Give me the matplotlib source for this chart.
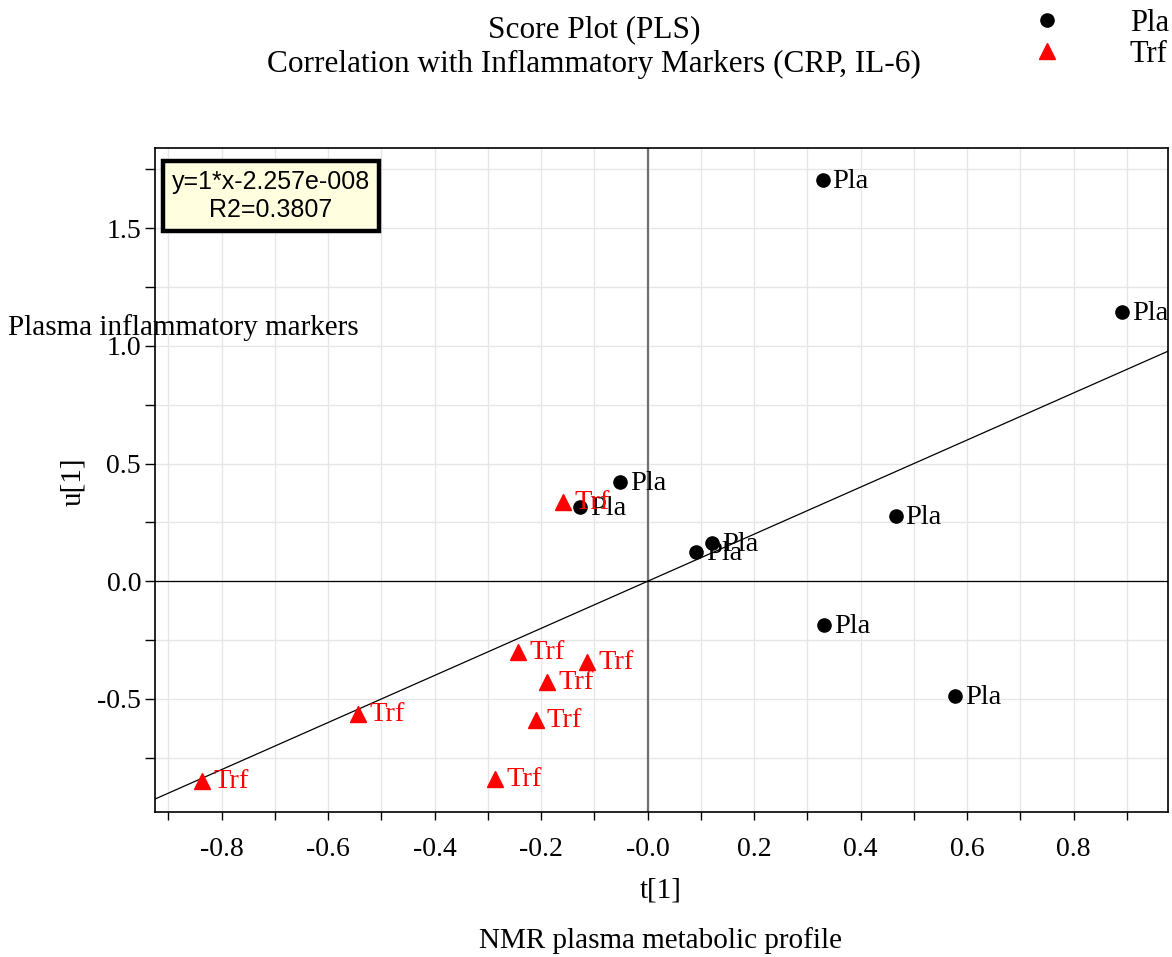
import numpy as np
import matplotlib
matplotlib.use('Agg')
import matplotlib.pyplot as plt
from matplotlib.ticker import MultipleLocator, FixedLocator

plt.rcParams['font.family'] = ['Liberation Serif', 'DejaVu Serif']

# PLS scores: t[1] (metabolic profile) vs u[1] (inflammatory markers)
pla_t = [0.329, 0.891, -0.052, -0.127, 0.121, 0.091, 0.466, 0.331, 0.577]
pla_u = [1.703, 1.142, 0.420, 0.314, 0.161, 0.123, 0.276, -0.187, -0.488]
trf_t = [-0.159, -0.243, -0.114, -0.189, -0.210, -0.544, -0.286, -0.837]
trf_u = [0.335, -0.301, -0.344, -0.429, -0.590, -0.565, -0.841, -0.849]

# fitted line u = slope*t + intercept
slope = 1.0
intercept = -2.257e-008
r2 = 0.3807

xticks = [-0.8, -0.6, -0.4, -0.2, 0.0, 0.2, 0.4, 0.6, 0.8]
xticklabels = ['-0.8', '-0.6', '-0.4', '-0.2', '-0.0', '0.2', '0.4', '0.6', '0.8']
yticks = [-0.5, 0.0, 0.5, 1.0, 1.5]
yticklabels = ['-0.5', '0.0', '0.5', '1.0', '1.5']

fig = plt.figure(figsize=(11.72, 9.57), dpi=100)
ax = fig.add_axes([155/1172, 1 - 812/957, 1013/1172, 664/957])

xlim = (-0.925, 0.977)
ylim = (-0.98, 1.84)
ax.set_xlim(xlim)
ax.set_ylim(ylim)

ax.xaxis.set_major_locator(FixedLocator(xticks))
ax.set_xticklabels(xticklabels)
ax.xaxis.set_minor_locator(MultipleLocator(0.1))
ax.yaxis.set_major_locator(FixedLocator(yticks))
ax.set_yticklabels(yticklabels)
ax.yaxis.set_minor_locator(MultipleLocator(0.25))
ax.tick_params(which='both', direction='out', width=1, labelsize=20)
ax.tick_params(axis='x', which='both', length=6, pad=12)
ax.tick_params(axis='y', which='both', length=7, pad=3)
ax.grid(True, which='both', color='#e6e6e6', lw=1)
ax.set_axisbelow(True)
for s in ax.spines.values():
    s.set_linewidth(1.2)

ax.axvline(0, color='#707070', lw=1.6, zorder=1)
ax.axhline(0, color='black', lw=0.9, zorder=1)

xs = np.array(xlim)
ax.plot(xs, slope * xs + intercept, color='black', lw=0.9, zorder=2)

ax.plot(pla_t, pla_u, 'o', color='black', markersize=9.5, ls='none', zorder=3, label='Pla')
ax.plot(trf_t, trf_u, '^', color='red', markersize=11, ls='none', zorder=3, label='Trf')

for t, u in zip(pla_t, pla_u):
    ax.annotate('Pla', (t, u), xytext=(7, -1), textcoords='offset points',
                fontsize=20.5, va='center', ha='left', color='black', zorder=4,
                annotation_clip=False)
for t, u in zip(trf_t, trf_u):
    ax.annotate('Trf', (t, u), xytext=(8, 0), textcoords='offset points',
                fontsize=20.5, va='center', ha='left', color='red', zorder=4,
                annotation_clip=False)

ax.text(0.1145, 0.9277, 'y=1*x-2.257e-008\nR2=%.4f' % r2, transform=ax.transAxes,
        ha='center', va='center', multialignment='center', fontsize=18,
        family='Liberation Sans', linespacing=1.2, zorder=6,
        bbox=dict(boxstyle='square,pad=0.35', fc='#ffffe0', ec='black', lw=3.2))

fig.text(594/1172, 1 - 30/957, 'Score Plot (PLS)', ha='center', va='center', fontsize=22.5)
fig.text(594/1172, 1 - 64/957, 'Correlation with Inflammatory Markers (CRP, IL-6)',
         ha='center', va='center', fontsize=22.5)

fig.text(8/1172, 1 - 328/957, 'Plasma inflammatory markers', ha='left', va='center', fontsize=21)
fig.text(73/1172, 1 - 482/957, 'u[1]', ha='center', va='center', rotation=90, fontsize=21)
fig.text(661/1172, 1 - 890/957, 't[1]', ha='center', va='center', fontsize=21)
fig.text(660/1172, 1 - 941/957, 'NMR plasma metabolic profile', ha='center', va='center', fontsize=21)

fig.legend(loc='upper right', bbox_to_anchor=(1.0, 1 - 6/957), frameon=False, fontsize=22,
           handletextpad=1.95, labelspacing=0.05, borderaxespad=0.0, borderpad=0.1,
           handlelength=1.5)

fig.savefig('out.png', dpi=100)
